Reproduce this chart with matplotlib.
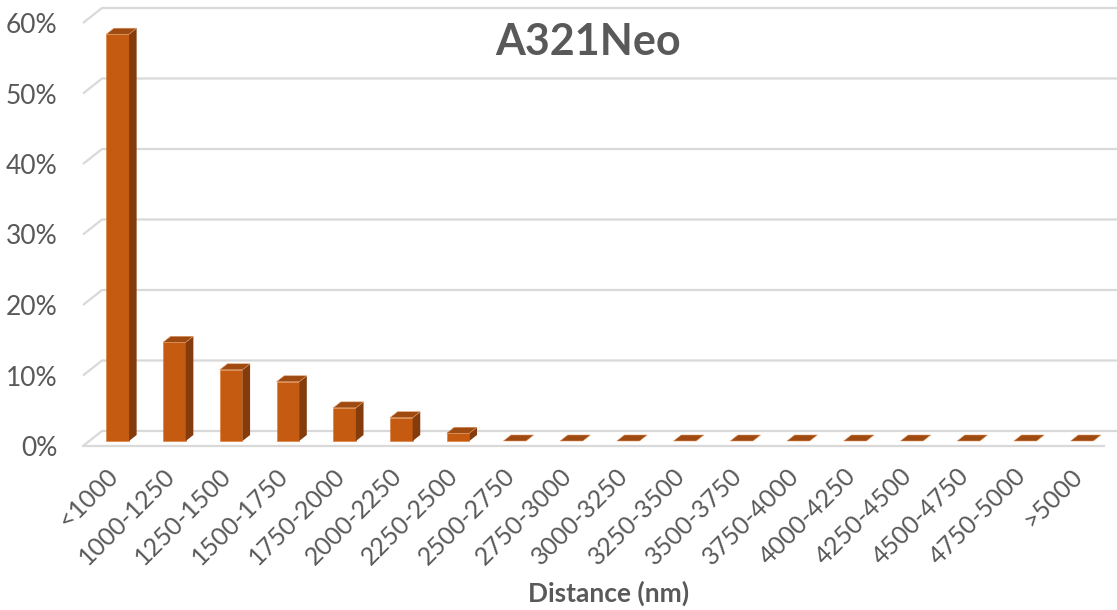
import matplotlib
matplotlib.use("Agg")
import matplotlib.pyplot as plt
from matplotlib.patches import Polygon

# Share of flights per distance band (percent)
categories = ["<1000", "1000-1250", "1250-1500", "1500-1750", "1750-2000",
              "2000-2250", "2250-2500", "2500-2750", "2750-3000", "3000-3250",
              "3250-3500", "3500-3750", "3750-4000", "4000-4250", "4250-4500",
              "4500-4750", "4750-5000", ">5000"]
share_pct = [57.7, 14.0, 10.1, 8.4, 4.7, 3.3, 1.1, 0.0, 0.0, 0.0,
             0.0, 0.0, 0.0, 0.0, 0.0, 0.0, 0.0, 0.0]
y_ticks = [0, 10, 20, 30, 40, 50, 60]
y_tick_labels = ["0%", "10%", "20%", "30%", "40%", "50%", "60%"]

title = "A321Neo"
x_title = "Distance (nm)"

FRONT = "#C55A11"
SIDE = "#843C0C"
TOP = "#9E4A10"
GRID = "#D9D9D9"
TEXT = "#595959"
FONT = ["Lato", "DejaVu Sans"]

plt.rcParams["font.family"] = FONT

W, H = 1117, 610
fig = plt.figure(figsize=(W / 100, H / 100), dpi=100)
ax = fig.add_axes([83 / W, (H - 446) / H, (1104 - 83) / W, 423 / H])
n = len(categories)
ax.set_xlim(-0.5, n - 0.5)
ax.set_ylim(y_ticks[0], y_ticks[-1])
for s in ax.spines.values():
    s.set_visible(False)

# pixel -> data conversion for the oblique depth direction
px_x = ax.bbox.width / n
px_y = ax.bbox.height / (y_ticks[-1] - y_ticks[0])
ddx = 19 / px_x      # floor depth, horizontal component
ddy = 15 / px_y      # floor depth, vertical component

# back wall gridlines with their slanted side-wall segments
for v in y_ticks:
    ax.plot([-0.5, -0.5 + ddx, n + 1], [v, v + ddy, v + ddy],
            color=GRID, lw=1.6, clip_on=False, zorder=1,
            solid_capstyle="butt")
# floor front edge
ax.plot([-0.5, n - 0.5], [0, 0], color=GRID, lw=1.6, clip_on=False, zorder=1)

# 3-D style columns
bw = 0.40
f = 1 / 3
bdx, bdy = ddx * 0.4, ddy * 0.4
for i, v in enumerate(share_pct):
    cx = i + ddx * f
    y0 = ddy * f
    x0, x1 = cx - bw / 2, cx + bw / 2
    if v > 0:
        ax.bar(cx, v, width=bw, bottom=y0, color=FRONT, zorder=3,
               edgecolor="#D9782F", linewidth=0.4)
        ax.add_patch(Polygon([(x1, y0), (x1 + bdx, y0 + bdy),
                              (x1 + bdx, y0 + v + bdy), (x1, y0 + v)],
                             closed=True, facecolor=SIDE, edgecolor="none",
                             zorder=3))
    ax.add_patch(Polygon([(x0, y0 + v), (x1, y0 + v),
                          (x1 + bdx, y0 + v + bdy), (x0 + bdx, y0 + v + bdy)],
                         closed=True, facecolor=TOP, edgecolor="#E09A66",
                         linewidth=0.4, zorder=4))

ax.set_yticks(y_ticks, labels=y_tick_labels)
ax.tick_params(axis="y", length=0, pad=18.5, labelsize=19, labelcolor=TEXT)
ax.set_xticks([i + 0.05 for i in range(n)], labels=categories)
ax.tick_params(axis="x", length=0, pad=19, labelsize=18, labelcolor=TEXT)
for lab in ax.get_xticklabels():
    lab.set_rotation(45)
    lab.set_ha("right")
    lab.set_va("center")
    lab.set_rotation_mode("anchor")

fig.text(588 / W, 1 - 42 / H, title, ha="center", va="center",
         fontsize=31, fontweight="bold", color=TEXT)
fig.text(609 / W, 1 - 593 / H, x_title, ha="center", va="center",
         fontsize=19, fontweight="bold", color=TEXT)

fig.savefig("out.png", dpi=100, facecolor="white")
